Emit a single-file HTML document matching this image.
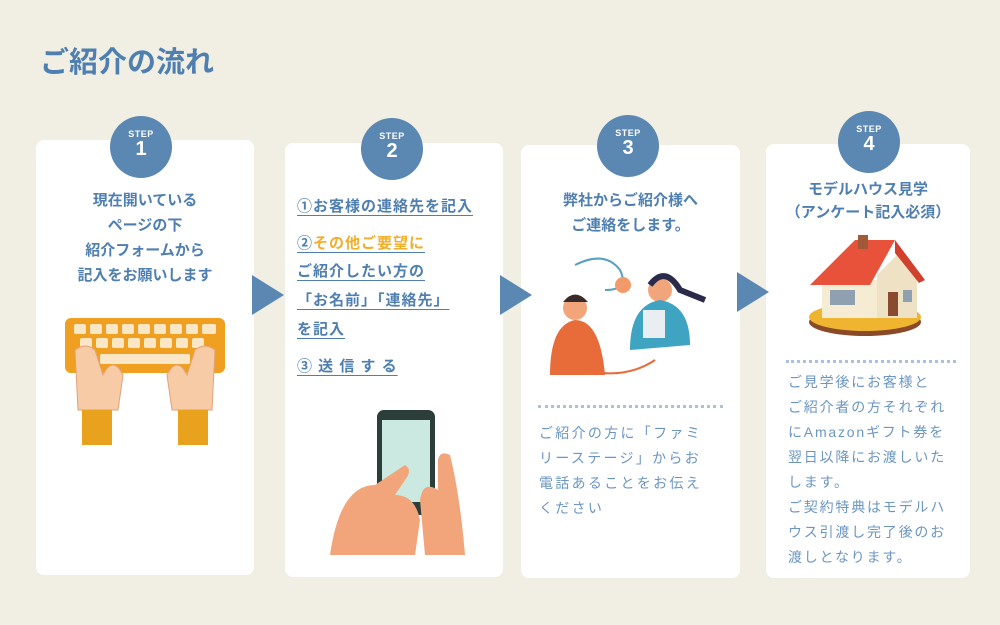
<!DOCTYPE html>
<html><head><meta charset="utf-8"><style>
*{margin:0;padding:0;box-sizing:border-box}
body{width:1000px;height:625px;background:#f1efe4;position:relative;overflow:hidden;font-family:"Liberation Sans","Noto Sans CJK JP",sans-serif;color:#4f7fb0}
.abs{position:absolute}
.card{position:absolute;background:#fff;border-radius:8px}
.c{position:absolute;width:62px;height:62px;border-radius:50%;background:#5b87b3;color:#fff;text-align:center}
.c b{display:block;font-size:9px;margin-top:13px;letter-spacing:.5px}
.c i{display:block;font-style:normal;font-size:20px;font-weight:bold;line-height:20px}
.tri{position:absolute;width:0;height:0;border-top:20px solid transparent;border-bottom:20px solid transparent;border-left:32px solid #5b87b3}
.t{position:absolute;font-weight:bold;font-size:15px;text-align:center;line-height:25px;white-space:nowrap}
.u{position:absolute;left:297px;font-weight:bold;font-size:15px;text-decoration:underline;text-underline-offset:4px;letter-spacing:1px;white-space:nowrap}
.p{position:absolute;font-size:14px;line-height:25px;letter-spacing:2.3px;color:#6b96c2;white-space:nowrap}
.dash{position:absolute;height:3px;border-top:3px dotted #a9c2dc}
</style></head><body>
<div class="abs" style="left:40px;top:39px;font-size:29px;font-weight:bold;color:#4f7fb0">ご紹介の流れ</div>

<div class="card" style="left:36px;top:140px;width:218px;height:435px"></div>
<div class="card" style="left:285px;top:143px;width:218px;height:434px"></div>
<div class="card" style="left:521px;top:145px;width:219px;height:433px"></div>
<div class="card" style="left:766px;top:144px;width:204px;height:434px"></div>

<div class="c" style="left:110px;top:116px"><b>STEP</b><i>1</i></div>
<div class="c" style="left:361px;top:118px"><b>STEP</b><i>2</i></div>
<div class="c" style="left:597px;top:115px"><b>STEP</b><i>3</i></div>
<div class="c" style="left:838px;top:111px"><b>STEP</b><i>4</i></div>

<div class="tri" style="left:252px;top:275px"></div>
<div class="tri" style="left:500px;top:275px"></div>
<div class="tri" style="left:737px;top:272px"></div>

<div class="t" style="left:36px;width:218px;top:188px">現在開いている<br>ページの下<br>紹介フォームから<br>記入をお願いします</div>

<div class="u" style="top:195px">①お客様の連絡先を記入</div>
<div class="u" style="top:232px">②<span style="color:#f0ae2d">その他ご要望に</span></div>
<div class="u" style="top:260px">ご紹介したい方の</div>
<div class="u" style="top:289px">「お名前」「連絡先」</div>
<div class="u" style="top:318px">を記入</div>
<div class="u" style="top:355px">③ 送 信 す る</div>

<div class="t" style="left:521px;width:219px;top:188px">弊社からご紹介様へ<br>ご連絡をします。</div>
<div class="dash" style="left:538px;top:405px;width:185px"></div>
<div class="p" style="left:539px;top:421px">ご紹介の方に「ファミ<br>リーステージ」からお<br>電話あることをお伝え<br>ください</div>

<div class="t" style="left:766px;width:204px;top:178px;font-size:15px;line-height:23px">モデルハウス見学<br>（アンケート記入必須）</div>
<div class="dash" style="left:786px;top:360px;width:170px"></div>
<div class="p" style="left:788px;top:370px;letter-spacing:1.8px">ご見学後にお客様と<br>ご紹介者の方それぞれ<br>にAmazonギフト券を<br>翌日以降にお渡しいた<br>します。<br>ご契約特典はモデルハ<br>ウス引渡し完了後のお<br>渡しとなります。</div>

<!-- keyboard -->
<svg class="abs" style="left:60px;top:310px" width="170" height="145">
<rect x="5" y="8" width="160" height="55" rx="6" fill="#f0a020"/>
<g fill="#fbe7c6">
<rect x="14" y="14" width="12" height="10" rx="2"/><rect x="30" y="14" width="12" height="10" rx="2"/><rect x="46" y="14" width="12" height="10" rx="2"/><rect x="62" y="14" width="12" height="10" rx="2"/><rect x="78" y="14" width="12" height="10" rx="2"/><rect x="94" y="14" width="12" height="10" rx="2"/><rect x="110" y="14" width="12" height="10" rx="2"/><rect x="126" y="14" width="12" height="10" rx="2"/><rect x="142" y="14" width="14" height="10" rx="2"/>
<rect x="20" y="28" width="12" height="10" rx="2"/><rect x="36" y="28" width="12" height="10" rx="2"/><rect x="52" y="28" width="12" height="10" rx="2"/><rect x="68" y="28" width="12" height="10" rx="2"/><rect x="84" y="28" width="12" height="10" rx="2"/><rect x="100" y="28" width="12" height="10" rx="2"/><rect x="116" y="28" width="12" height="10" rx="2"/><rect x="132" y="28" width="12" height="10" rx="2"/>
<rect x="40" y="44" width="90" height="10" rx="2"/></g>
<g fill="#f7cba6" stroke="#e2a27a"><path d="M15 40 q10 -8 20 0 l8 25 q10 -20 20 0 l-5 35 h-40 z"/><path d="M155 40 q-10 -8 -20 0 l-8 25 q-10 -20 -20 0 l5 35 h40 z"/></g>
<rect x="22" y="100" width="30" height="35" fill="#e8a21d"/><rect x="118" y="100" width="30" height="35" fill="#e8a21d"/>
</svg>

<!-- phone -->
<svg class="abs" style="left:325px;top:405px" width="145" height="155">
<rect x="52" y="5" width="58" height="105" rx="7" fill="#2c3e3a"/><rect x="57" y="15" width="48" height="82" fill="#cbe9e0"/>
<path d="M5 150 q10 -70 45 -70 l30 -20 q8 5 0 15 l-10 15 q20 0 25 25 l-5 35z" fill="#f2a57a"/>
<path d="M140 150 q-5 -60 -15 -100 q-10 -5 -12 5 l0 30 q-15 -10 -18 10 l5 55z" fill="#f2a57a"/>
</svg>

<!-- people -->
<svg class="abs" style="left:545px;top:250px" width="170" height="130">
<path d="M30 15 q30 -15 45 5 q10 20 -15 20" fill="none" stroke="#5aa0c0" stroke-width="2"/>
<circle cx="78" cy="35" r="8" fill="#f39a6b"/>
<circle cx="30" cy="58" r="12" fill="#f2a57a"/><path d="M18 52 q12 -15 25 0" fill="#3a2b2b"/>
<path d="M5 125 q0 -50 25 -55 q25 0 30 55z" fill="#e86b3a"/>
<circle cx="115" cy="40" r="12" fill="#f2a57a"/><path d="M105 35 q15 -20 30 5 l25 10" stroke="#2a2a4a" stroke-width="6" fill="none"/>
<path d="M85 100 q0 -45 30 -50 q30 5 30 45z" fill="#3ea4c2"/><rect x="98" y="60" width="22" height="28" fill="#e9eef2"/>
<path d="M40 120 q40 10 70 -10" fill="none" stroke="#e86b3a" stroke-width="2"/>
</svg>

<!-- house -->
<svg class="abs" style="left:800px;top:230px" width="130" height="110">
<ellipse cx="65" cy="92" rx="56" ry="14" fill="#8a4a2a"/><ellipse cx="65" cy="87" rx="56" ry="14" fill="#f0b530"/>
<rect x="22" y="50" width="55" height="38" fill="#f6ecd4"/><path d="M77 88 V45 l20 -20 l20 25 v38z" fill="#efe2c4"/>
<path d="M10 55 l45 -45 h40 l-25 45z" fill="#e8513a"/><path d="M95 10 l30 40 l-6 3 l-24 -30z" fill="#d0402d"/>
<rect x="58" y="5" width="10" height="14" fill="#a05a3a"/>
<rect x="30" y="60" width="25" height="15" fill="#8fa0b0"/><rect x="88" y="62" width="10" height="24" fill="#8a4a30"/><rect x="103" y="60" width="9" height="12" fill="#8fa0b0"/>
</svg>
</body></html>
